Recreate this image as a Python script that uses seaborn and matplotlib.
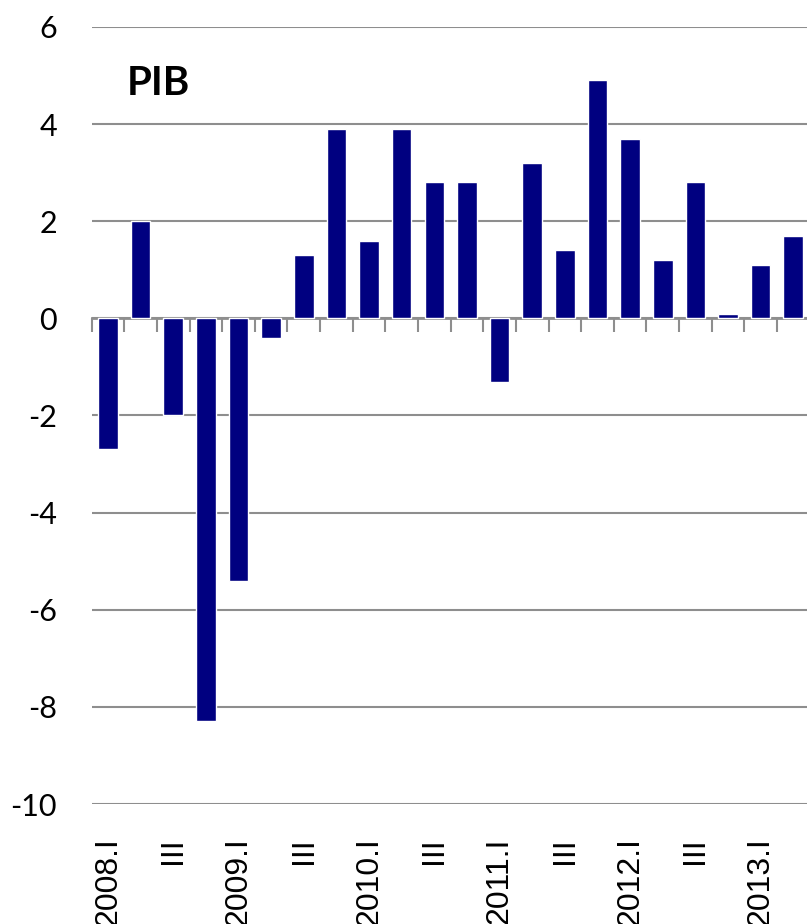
import matplotlib
matplotlib.use("Agg")
import matplotlib.pyplot as plt
import seaborn as sns
import pandas as pd

quarters = ["2008.I", "2008.II", "2008.III", "2008.IV",
            "2009.I", "2009.II", "2009.III", "2009.IV",
            "2010.I", "2010.II", "2010.III", "2010.IV",
            "2011.I", "2011.II", "2011.III", "2011.IV",
            "2012.I", "2012.II", "2012.III", "2012.IV",
            "2013.I", "2013.II"]
pib = [-2.7, 2.0, -2.0, -8.3, -5.4, -0.4, 1.3, 3.9, 1.6, 3.9, 2.8, 2.8,
       -1.3, 3.2, 1.4, 4.9, 3.7, 1.2, 2.8, 0.1, 1.1, 1.7]
tick_labels = ["2008.I", "", "III", "", "2009.I", "", "III", "",
               "2010.I", "", "III", "", "2011.I", "", "III", "",
               "2012.I", "", "III", "", "2013.I", ""]
yticks = [-10, -8, -6, -4, -2, 0, 2, 4, 6]

sns.set_theme(style="white")
plt.rcParams["font.family"] = ["Lato", "DejaVu Sans"]

df = pd.DataFrame({"q": quarters, "v": pib})

fig = plt.figure(figsize=(8.07, 9.24), dpi=100)
ax = fig.add_axes([91.7 / 807, 1 - 804 / 924, (809.6 - 91.7) / 807, (804 - 27) / 924])

sns.barplot(data=df, x="q", y="v", order=quarters, color="#000080",
            saturation=1, width=0.6, ax=ax, zorder=3)

ax.set_xlim(-0.5, len(quarters) - 0.5)
ax.set_ylim(-10, 6)
ax.set_yticks(yticks)
ax.set_yticklabels([str(t) for t in yticks], fontsize=22, color="black")
ax.yaxis.grid(True, color="#8e8e8e", linewidth=1.5, zorder=0)
ax.tick_params(axis="y", length=0, pad=25)

ax.set_xticks(range(len(quarters)))
ax.set_xticklabels(tick_labels, rotation=90, fontsize=23, va="top", color="black",
                   family=["Liberation Sans", "DejaVu Sans"])
ax.tick_params(axis="x", length=0, pad=24)
ax.set_xlabel("")
ax.set_ylabel("")
for s in ax.spines.values():
    s.set_visible(False)

# zero axis line with category boundary ticks
sec = ax.secondary_xaxis(0, transform=ax.transData)
sec.set_xticks([i - 0.5 for i in range(len(quarters) + 1)])
sec.set_xticklabels([])
sec.tick_params(axis="x", length=10, width=1.5, color="#8e8e8e", direction="out")
sec.spines["bottom"].set_color("#8e8e8e")
sec.spines["bottom"].set_linewidth(2)

ax.text(0.049, 0.912, "PIB", transform=ax.transAxes, fontsize=29,
        fontweight="bold", ha="left", va="baseline", color="black")

fig.savefig("out.png", dpi=100)
